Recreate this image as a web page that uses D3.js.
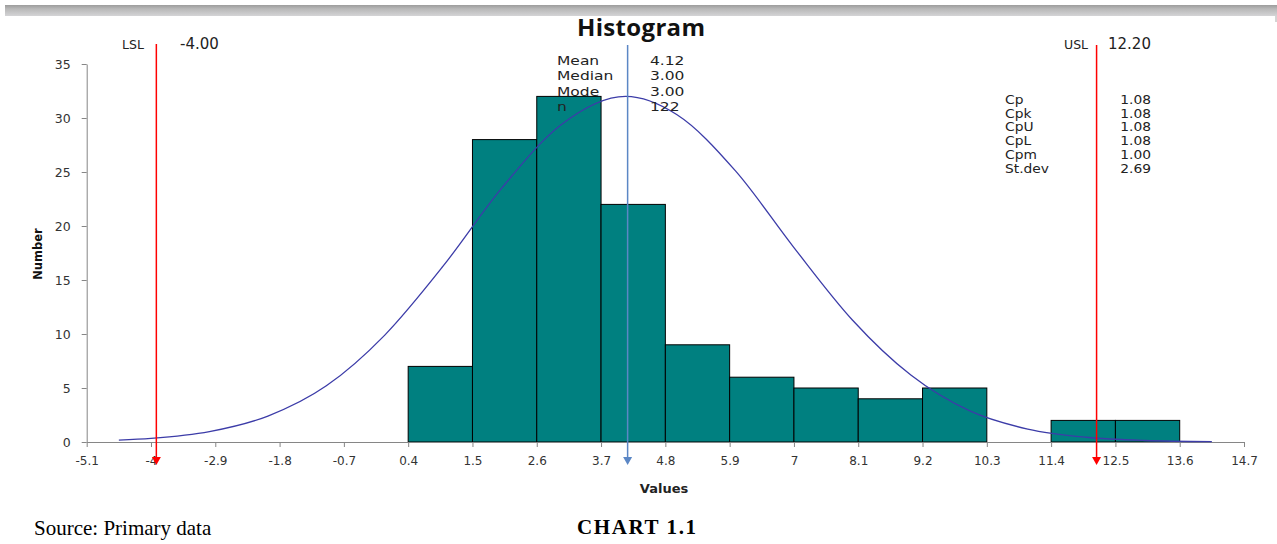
<!DOCTYPE html>
<html>
<head>
<meta charset="utf-8">
<script src="https://cdn.jsdelivr.net/npm/d3@7"></script>
<style>
  body { margin: 0; background: #fff; }
  svg { display: block; }
</style>
</head>
<body>
<svg id="chart" width="1277" height="544"></svg>
<script>
// histogram bins (edges) and counts
var binEdges = [0.4, 1.5, 2.6, 3.7, 4.8, 5.9, 7, 8.1, 9.2, 10.3, 11.4, 12.5, 13.6];
var counts = [7, 28, 32, 22, 9, 6, 5, 4, 5, 0, 2, 2];

// x axis tick labels
var xTicks = [-5.1, -4, -2.9, -1.8, -0.7, 0.4, 1.5, 2.6, 3.7, 4.8, 5.9, 7, 8.1, 9.2, 10.3, 11.4, 12.5, 13.6, 14.7];
var yTicks = [0, 5, 10, 15, 20, 25, 30, 35];

// fitted curve
var curveX = [-4.55, -4, -3, -2, -1, 0, 1, 2, 3, 4.12, 5, 6, 7, 8, 9, 10, 11, 12, 13, 14.15];
var curveY = [0.18, 0.34, 0.96, 2.4, 5.2, 9.9, 16.3, 23.5, 29.3, 32, 30.3, 25.1, 18.0, 11.3, 6.2, 2.9, 1.2, 0.44, 0.14, 0.03];

// spec limits and stats
var LSL = -4, USL = 12.2, MEAN = 4.12;
var statLabels = ["Mean", "Median", "Mode", "n"];
var statValues = ["4.12", "3.00", "3.00", "122"];
var capLabels = ["Cp", "Cpk", "CpU", "CpL", "Cpm", "St.dev"];
var capValues = ["1.08", "1.08", "1.08", "1.08", "1.00", "2.69"];

var svg = d3.select("#chart");

// widen a text horizontally (the reference text is a bit stretched)
function stretch(sel, f) {
  sel.each(function() {
    var w = this.getComputedTextLength();
    d3.select(this).attr("textLength", w * f).attr("lengthAdjust", "spacingAndGlyphs");
  });
}

// grey band on top
var grad = svg.append("defs").append("linearGradient")
    .attr("id", "band").attr("x1", 0).attr("x2", 0).attr("y1", 0).attr("y2", 1);
grad.append("stop").attr("offset", "0%").attr("stop-color", "#9c9c9c");
grad.append("stop").attr("offset", "35%").attr("stop-color", "#b8b8b8");
grad.append("stop").attr("offset", "100%").attr("stop-color", "#d4d4d6");
svg.append("rect").attr("x", 5).attr("y", 5).attr("width", 1272).attr("height", 11)
    .attr("fill", "url(#band)");
svg.append("line").attr("x1", 1276).attr("x2", 1276).attr("y1", 16).attr("y2", 22)
    .attr("stroke", "#aaa");

var x = d3.scaleLinear().domain([-5.1, 14.7]).range([86.7, 1244]);
var y = d3.scaleLinear().domain([0, 35]).range([442, 64]);
// the limit/mean lines sit on a secondary axis with a slightly different span
var x2 = d3.scaleLinear().domain([-5.2, 14.74]).range([86.7, 1244]);

var axisColor = "#868686";
var textColor = "#333";
var font = "DejaVu Sans, Verdana, sans-serif";

// bars
svg.append("g").selectAll("rect")
  .data(counts)
  .enter().append("rect")
    .attr("x", function(d, i) { return x(binEdges[i]); })
    .attr("y", function(d) { return y(d); })
    .attr("width", function(d, i) { return x(binEdges[i + 1]) - x(binEdges[i]); })
    .attr("height", function(d) { return y(0) - y(d); })
    .attr("fill", "#008080")
    .attr("stroke", "#000")
    .attr("stroke-width", 1)
    .style("display", function(d) { return d > 0 ? null : "none"; });

// x axis
var xAxis = svg.append("g")
    .attr("transform", "translate(0," + y(0) + ")")
    .call(d3.axisBottom(x).tickValues(xTicks).tickFormat(function(d) { return String(d); })
      .tickSizeInner(5).tickSizeOuter(0).tickPadding(9));
xAxis.select(".domain").attr("stroke", axisColor);
xAxis.selectAll(".tick line").attr("stroke", axisColor);
xAxis.selectAll("text").attr("fill", textColor).style("font-family", font).style("font-size", "12px");

// y axis
var yAxis = svg.append("g")
    .attr("transform", "translate(" + x(-5.1) + ",0)")
    .call(d3.axisLeft(y).tickValues(yTicks).tickSizeInner(5).tickSizeOuter(0).tickPadding(11));
yAxis.select(".domain").attr("stroke", axisColor);
yAxis.selectAll(".tick line").attr("stroke", axisColor);
yAxis.selectAll("text").attr("fill", textColor).style("font-family", font).style("font-size", "12.5px");

// fitted curve
var line = d3.line()
    .x(function(d, i) { return x(curveX[i]); })
    .y(function(d) { return y(d); })
    .curve(d3.curveMonotoneX);
svg.append("path")
    .datum(curveY)
    .attr("d", line)
    .attr("fill", "none")
    .attr("stroke", "#3c3ca8")
    .attr("stroke-width", 1.3);

// vertical marker lines with arrowheads
function marker(v, color, top) {
  var px = x2(v);
  svg.append("line")
      .attr("x1", px).attr("x2", px)
      .attr("y1", top).attr("y2", 458)
      .attr("stroke", color).attr("stroke-width", 1.5);
  svg.append("path")
      .attr("d", "M" + (px - 4.5) + ",457 L" + (px + 4.5) + ",457 L" + px + ",465 Z")
      .attr("fill", color);
}
marker(LSL, "#ff0000", 44);
marker(USL, "#ff0000", 45);
marker(MEAN, "#5b87c5", 45);

// limit labels
svg.append("text").attr("x", 122).attr("y", 49).text("LSL")
    .attr("fill", "#222").style("font-family", font).style("font-size", "12.5px");
svg.append("text").attr("x", 180).attr("y", 49).text(LSL.toFixed(2))
    .attr("fill", "#222").style("font-family", font).style("font-size", "15px");
svg.append("text").attr("x", 1064).attr("y", 49).text("USL")
    .attr("fill", "#222").style("font-family", font).style("font-size", "12.5px");
svg.append("text").attr("x", 1108).attr("y", 49).text(USL.toFixed(2))
    .attr("fill", "#222").style("font-family", font).style("font-size", "15px");

// title
svg.append("text").attr("x", 577).attr("y", 36)
    .text("Histogram").attr("textLength", 128)
    .attr("fill", "#111").style("font-family", "Open Sans, sans-serif")
    .style("font-weight", "bold").style("font-size", "24px");

// stats block
var st = svg.append("g").style("font-family", font).style("font-size", "12.7px").attr("fill", "#222");
statLabels.forEach(function(s, i) {
  st.append("text").attr("x", 557).attr("y", 65 + i * 15.3).text(s);
  st.append("text").attr("x", 650).attr("y", 65 + i * 15.3).text(statValues[i]);
});
stretch(st.selectAll("text"), 1.22);

var cp = svg.append("g").style("font-family", font).style("font-size", "11.5px").attr("fill", "#222");
capLabels.forEach(function(s, i) {
  cp.append("text").attr("x", 1005).attr("y", 104 + i * 13.7).text(s);
  cp.append("text").attr("x", 1151).attr("y", 104 + i * 13.7).attr("text-anchor", "end")
      .text(capValues[i]);
});
stretch(cp.selectAll("text"), 1.2);

// axis titles
svg.append("text").attr("x", 664).attr("y", 493).attr("text-anchor", "middle")
    .text("Values").attr("fill", "#222").style("font-family", font)
    .style("font-weight", "bold").style("font-size", "13px");
svg.append("text").attr("transform", "translate(42,254) rotate(-90)")
    .attr("text-anchor", "middle")
    .text("Number").attr("fill", "#111").style("font-family", font)
    .style("font-weight", "bold").style("font-size", "11.5px");

// captions under the chart
svg.append("text").attr("x", 34).attr("y", 535).text("Source: Primary data")
    .attr("fill", "#000").style("font-family", "Liberation Serif, serif").style("font-size", "21px");
svg.append("text").attr("x", 577).attr("y", 534).text("CHART 1.1").attr("textLength", 119)
    .attr("fill", "#000").style("font-family", "Liberation Serif, serif")
    .style("font-weight", "bold").style("font-size", "21px");
</script>
</body>
</html>
